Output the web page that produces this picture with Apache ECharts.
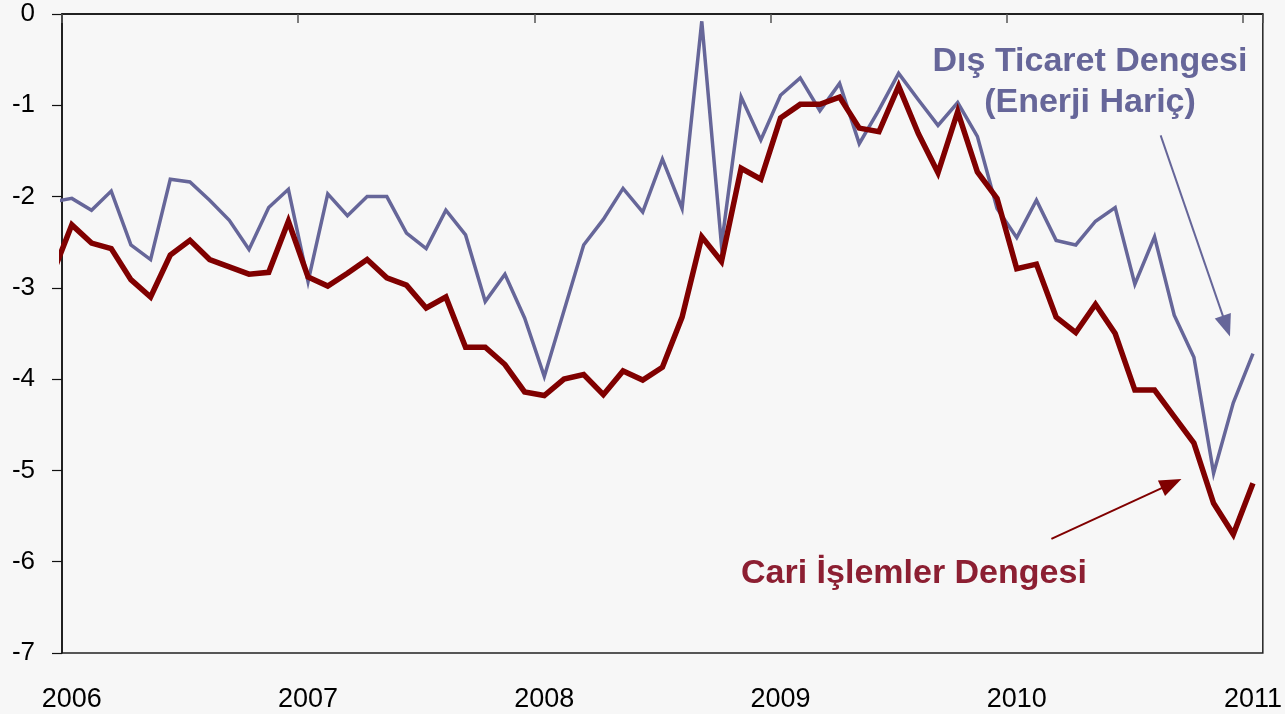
<!DOCTYPE html>
<html>
<head>
<meta charset="utf-8">
<script src="https://cdn.jsdelivr.net/npm/echarts@6/dist/echarts.min.js"></script>
<style>
  html, body { margin: 0; padding: 0; background: #f7f7f7; }
  #chart { width: 1285px; height: 714px; }
</style>
</head>
<body>
<div id="chart"></div>
<script>
// Monthly series, Dec 2005 .. Jan 2011 (the Dec 2005 point only feeds the clipped first segment)
const months = [
  '2005-12',
  '2006-01','2006-02','2006-03','2006-04','2006-05','2006-06','2006-07','2006-08','2006-09','2006-10','2006-11','2006-12',
  '2007-01','2007-02','2007-03','2007-04','2007-05','2007-06','2007-07','2007-08','2007-09','2007-10','2007-11','2007-12',
  '2008-01','2008-02','2008-03','2008-04','2008-05','2008-06','2008-07','2008-08','2008-09','2008-10','2008-11','2008-12',
  '2009-01','2009-02','2009-03','2009-04','2009-05','2009-06','2009-07','2009-08','2009-09','2009-10','2009-11','2009-12',
  '2010-01','2010-02','2010-03','2010-04','2010-05','2010-06','2010-07','2010-08','2010-09','2010-10','2010-11','2010-12',
  '2011-01'
];

// Cari İşlemler Dengesi
const cari = [
  -2.86,
  -2.31, -2.51, -2.57, -2.91, -3.10, -2.64, -2.48, -2.69, -2.77, -2.85, -2.83, -2.27,
  -2.88, -2.98, -2.84, -2.69, -2.89, -2.97, -3.22, -3.10, -3.65, -3.65, -3.84, -4.14,
  -4.18, -4.00, -3.95, -4.17, -3.91, -4.01, -3.87, -3.32, -2.44, -2.71, -1.69, -1.81,
  -1.14, -0.99, -0.99, -0.91, -1.25, -1.29, -0.79, -1.31, -1.74, -1.07, -1.73, -2.02,
  -2.79, -2.74, -3.32, -3.49, -3.18, -3.50, -4.12, -4.12, -4.41, -4.70, -5.36, -5.70,
  -5.14
];

// Dış Ticaret Dengesi (Enerji Hariç)
const disTicaret = [
  -2.06,
  -2.02, -2.15, -1.94, -2.53, -2.69, -1.81, -1.84, -2.04, -2.26, -2.58, -2.12, -1.92,
  -2.93, -1.97, -2.21, -2.00, -2.00, -2.40, -2.57, -2.15, -2.42, -3.15, -2.85, -3.33,
  -3.97, -3.25, -2.53, -2.25, -1.91, -2.17, -1.59, -2.13, -0.08, -2.53, -0.91, -1.38,
  -0.89, -0.70, -1.06, -0.76, -1.42, -1.05, -0.65, -0.94, -1.22, -0.97, -1.34, -2.13,
  -2.45, -2.04, -2.48, -2.53, -2.27, -2.12, -2.96, -2.44, -3.30, -3.76, -5.03, -4.26,
  -3.72
];

// Year labels shown under each January
const yearLabels = ['2006', '2007', '2008', '2009', '2010', '2011'];

// Months shown on the axis: Jan 2006 .. Jan 2011
const shownMonths = months.slice(1);

// Month i (0 = Dec 2005) sits at the centre of its slot on a 0..61 scale
const toPoints = (vals) => vals.map((v, i) => [i - 0.5, v]);

const FONT = '"Liberation Sans", Arial, sans-serif';
const BLUE = '#666699';
const RED = '#800000';

const chart = echarts.init(document.getElementById('chart'), null, { renderer: 'canvas' });

chart.setOption({
  backgroundColor: '#f7f7f7',
  animation: false,
  grid: {
    left: 62, right: 22, top: 14, bottom: 61,
    show: true,
    borderColor: '#222222',
    borderWidth: 1.5,
    backgroundColor: 'transparent'
  },
  xAxis: [
    {
      type: 'value',
      position: 'top',
      min: 0,
      max: shownMonths.length,
      interval: 12,
      axisLine: { show: true, onZero: false, lineStyle: { color: '#111', width: 1.5 } },
      axisTick: { show: true, inside: true, length: 9, lineStyle: { color: '#555', width: 1.5 } },
      axisLabel: { show: false },
      splitLine: { show: false }
    },
    {
      type: 'category',
      position: 'bottom',
      data: shownMonths,
      boundaryGap: true,
      axisLine: { show: false },
      axisTick: { show: false },
      splitLine: { show: false },
      axisLabel: {
        interval: 11,
        margin: 33,
        color: '#000',
        fontFamily: FONT,
        fontSize: 27,
        formatter: (val, idx) => yearLabels[idx / 12]
      }
    }
  ],
  yAxis: {
    type: 'value',
    min: -7,
    max: 0,
    interval: 1,
    axisLine: { show: true, lineStyle: { color: '#111', width: 1.5 } },
    axisTick: { show: true, inside: false, length: 10, lineStyle: { color: '#111', width: 1.2 } },
    splitLine: { show: false },
    axisLabel: {
      margin: 27,
      color: '#000',
      fontFamily: FONT,
      fontSize: 26
    }
  },
  series: [
    {
      name: 'Dış Ticaret Dengesi (Enerji Hariç)',
      type: 'line',
      xAxisIndex: 0,
      data: toPoints(disTicaret),
      symbol: 'none',
      clip: true,
      lineStyle: { color: BLUE, width: 3.5, join: 'miter' },
      emphasis: { disabled: true },
      markLine: {
        silent: true,
        symbol: ['none', 'triangle'],
        symbolSize: [17, 22],
        label: { show: false },
        lineStyle: { color: BLUE, width: 2, type: 'solid' },
        data: [[{ coord: [55.81, -1.33] }, { coord: [59.15, -3.42] }]]
      }
    },
    {
      name: 'Cari İşlemler Dengesi',
      type: 'line',
      xAxisIndex: 0,
      data: toPoints(cari),
      symbol: 'none',
      clip: true,
      lineStyle: { color: RED, width: 5.5, join: 'miter' },
      emphasis: { disabled: true },
      markLine: {
        silent: true,
        symbol: ['none', 'triangle'],
        symbolSize: [17, 22],
        label: { show: false },
        lineStyle: { color: RED, width: 2, type: 'solid' },
        data: [[{ coord: [50.26, -5.75] }, { coord: [56.36, -5.145] }]]
      }
    }
  ],
  graphic: [
    {
      type: 'text', x: 1090, y: 62, silent: true,
      style: {
        text: 'Dış Ticaret Dengesi',
        font: 'bold 34px ' + FONT,
        fill: BLUE, align: 'center', verticalAlign: 'middle'
      }
    },
    {
      type: 'text', x: 1090, y: 103, silent: true,
      style: {
        text: '(Enerji Hariç)',
        font: 'bold 34px ' + FONT,
        fill: BLUE, align: 'center', verticalAlign: 'middle'
      }
    },
    {
      type: 'text', x: 741, y: 574, silent: true,
      style: {
        text: 'Cari İşlemler Dengesi',
        font: 'bold 34px ' + FONT,
        fill: '#8c1f32', align: 'left', verticalAlign: 'middle'
      }
    }
  ]
});
</script>
</body>
</html>
